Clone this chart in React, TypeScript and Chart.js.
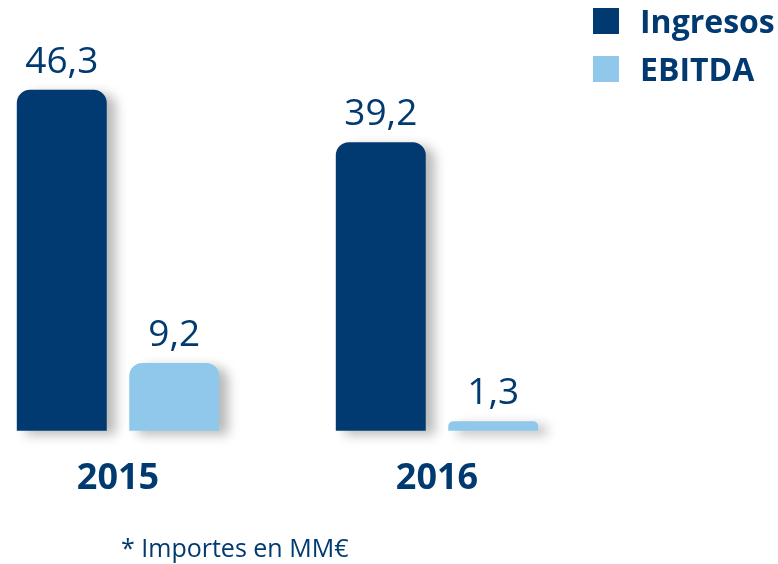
import React, { useEffect, useRef } from "react";
import { Chart, registerables } from "chart.js";

Chart.register(...registerables);

const years = [2015, 2016];
const ingresos = [46.3, 39.2];
const ebitda = [9.2, 1.3];
const seriesNames = ["Ingresos", "EBITDA"];
const footnote = "* Importes en MM€";

const NAVY = "#003A70";
const LIGHT = "#8FC8EA";
const FONT = "'Open Sans', sans-serif";

const fmt = (v: number) => v.toFixed(1).replace(".", ",");

const shadowPlugin = {
  id: "barShadow",
  beforeDatasetsDraw(chart: any) {
    const ctx = chart.ctx;
    ctx.save();
    ctx.shadowColor = "rgba(0,0,0,0.28)";
    ctx.shadowBlur = 12;
    ctx.shadowOffsetX = 9;
    ctx.shadowOffsetY = 4;
  },
  afterDatasetsDraw(chart: any) {
    chart.ctx.restore();
  },
};

const labelsPlugin = {
  id: "valueLabels",
  afterDraw(chart: any) {
    const ctx = chart.ctx;
    ctx.save();
    ctx.fillStyle = NAVY;
    ctx.textAlign = "center";
    ctx.textBaseline = "alphabetic";
    ctx.font = `400 37px ${FONT}`;
    chart.data.datasets.forEach((ds: any, di: number) => {
      const meta = chart.getDatasetMeta(di);
      meta.data.forEach((el: any, i: number) => {
        const v = ds.data[i].y;
        ctx.fillText(fmt(v), el.x, el.y - 17);
      });
    });
    // legend
    chart.data.datasets.forEach((ds: any, di: number) => {
      const y0 = 8 + di * 48;
      ctx.fillStyle = ds.backgroundColor;
      ctx.fillRect(593, y0, 26, 26);
      ctx.fillStyle = NAVY;
      ctx.textAlign = "left";
      ctx.font = `700 32px ${FONT}`;
      ctx.fillText(ds.label, 640, y0 + 25);
    });
    // footnote
    ctx.font = `400 25px ${FONT}`;
    ctx.textAlign = "left";
    ctx.fillStyle = NAVY;
    ctx.fillText(footnote, 121, 557);
    ctx.restore();
  },
};

export default function App() {
  const ref = useRef<HTMLCanvasElement | null>(null);
  useEffect(() => {
    if (!ref.current) return;
    const chart = new Chart(ref.current, {
      type: "bar",
      data: {
        datasets: [
          {
            label: seriesNames[0],
            data: years.map((y, i) => ({ x: y, y: ingresos[i] })),
            backgroundColor: NAVY,
            borderRadius: { topLeft: 13, topRight: 13, bottomLeft: 0, bottomRight: 0 },
            borderSkipped: false,
            clip: false as any,
          },
          {
            label: seriesNames[1],
            data: years.map((y, i) => ({ x: y, y: ebitda[i] })),
            backgroundColor: LIGHT,
            borderRadius: { topLeft: 13, topRight: 13, bottomLeft: 0, bottomRight: 0 },
            borderSkipped: false,
            clip: false as any,
          },
        ],
      } as any,
      options: {
        animation: false,
        responsive: true,
        maintainAspectRatio: false,
        categoryPercentage: 0.705,
        barPercentage: 0.8,
        layout: { padding: { left: 0, right: 0, top: 0, bottom: 38 } },
        plugins: {
          legend: { display: false },
          tooltip: { enabled: false },
        },
        scales: {
          x: {
            type: "linear",
            offset: false,
            bounds: "data",
            min: years[0] - 118 / 319,
            max: years[0] + 660 / 319,
            grid: { display: false, drawTicks: false, offset: false },
            border: { display: false },
            afterBuildTicks: (scale: any) => {
              scale.ticks = years.map((v) => ({ value: v }));
            },
            ticks: {
              padding: 26,
              color: NAVY,
              font: { family: FONT, size: 36, weight: "bold" },
              callback: (v: any) => String(v),
            },
          },
          y: {
            display: false,
            min: 0,
            max: 58.5,
          },
        },
      } as any,
      plugins: [shadowPlugin, labelsPlugin],
    });
    return () => chart.destroy();
  }, []);
  return (
    <div style={{ position: "absolute", left: 0, top: 0, width: 778, height: 564 }}>
      <canvas ref={ref} />
    </div>
  );
}
